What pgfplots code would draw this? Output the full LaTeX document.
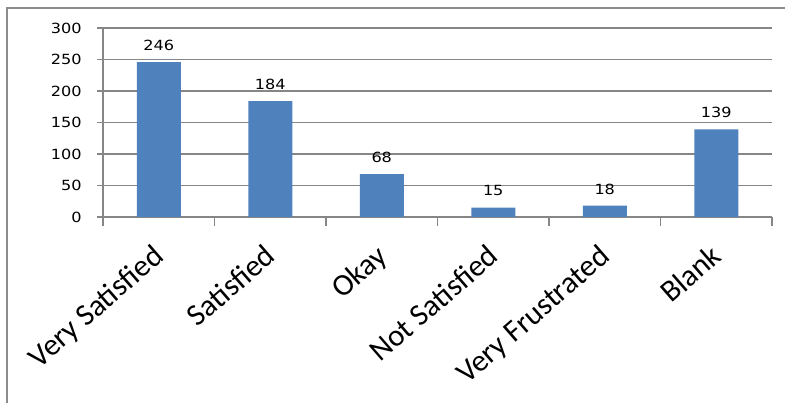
\documentclass[border=0pt]{standalone}
\usepackage{fontspec}
\setmainfont{DejaVu Sans}
\newfontfamily\catfont{Carlito}
\usepackage{pgfplots}
\pgfplotsset{compat=1.18}
\definecolor{barblue}{HTML}{4F81BD}
\definecolor{gridgray}{HTML}{868686}
\definecolor{framegray}{HTML}{8C8C8C}

\begin{document}
\begin{tikzpicture}
% page area and chart frame
\path[use as bounding box] (0pt,0pt) rectangle (588.75pt,302.25pt);
\draw[framegray, line width=1.5pt] (5.25pt,0pt) -- (5.25pt,296.25pt) -- (588.75pt,296.25pt);
\begin{axis}[
  at={(77.25pt,139.5pt)}, anchor=south west,
  scale only axis, width=501.75pt, height=141.75pt,
  /pgf/number format/assume math mode=true,
  xmin=-0.5, xmax=5.5, ymin=0, ymax=300,
  ytick={0,50,...,300},
  xtick={0,1,2,3,4,5},
  xticklabels={Very Satisfied,Satisfied,Okay,Not Satisfied,Very Frustrated,Blank},
  minor xtick={-0.5,0.5,1.5,2.5,3.5,4.5,5.5},
  axis x line*=bottom, axis y line*=left,
  axis line style={gridgray, line width=0.8pt},
  ymajorgrids, grid style={gridgray, line width=0.8pt},
  tick align=outside, major tick length=4.5pt, minor tick length=6.75pt,
  major x tick style={draw=none},
  minor x tick style={gridgray, line width=0.8pt},
  ytick style={gridgray, line width=0.8pt},
  yticklabel style={font=\fontsize{10.5}{12}\selectfont, xscale=1.15, anchor=east, xshift=-6.5pt},
  % shifts come before the rotation so they act in page directions
  xticklabel style={font=\catfont\fontsize{23}{26}\selectfont, xshift=-5pt, yshift=-10pt, rotate=41, anchor=north east},
  ybar, bar width=33pt,
  nodes near coords,
  nodes near coords style={font=\fontsize{10.5}{12}\selectfont, xscale=1.15, anchor=south, yshift=5pt},
]
\addplot[fill=barblue, draw=none] coordinates {(0,246) (1,184) (2,68) (3,15) (4,18) (5,139)};
\end{axis}
\end{tikzpicture}
\end{document}
